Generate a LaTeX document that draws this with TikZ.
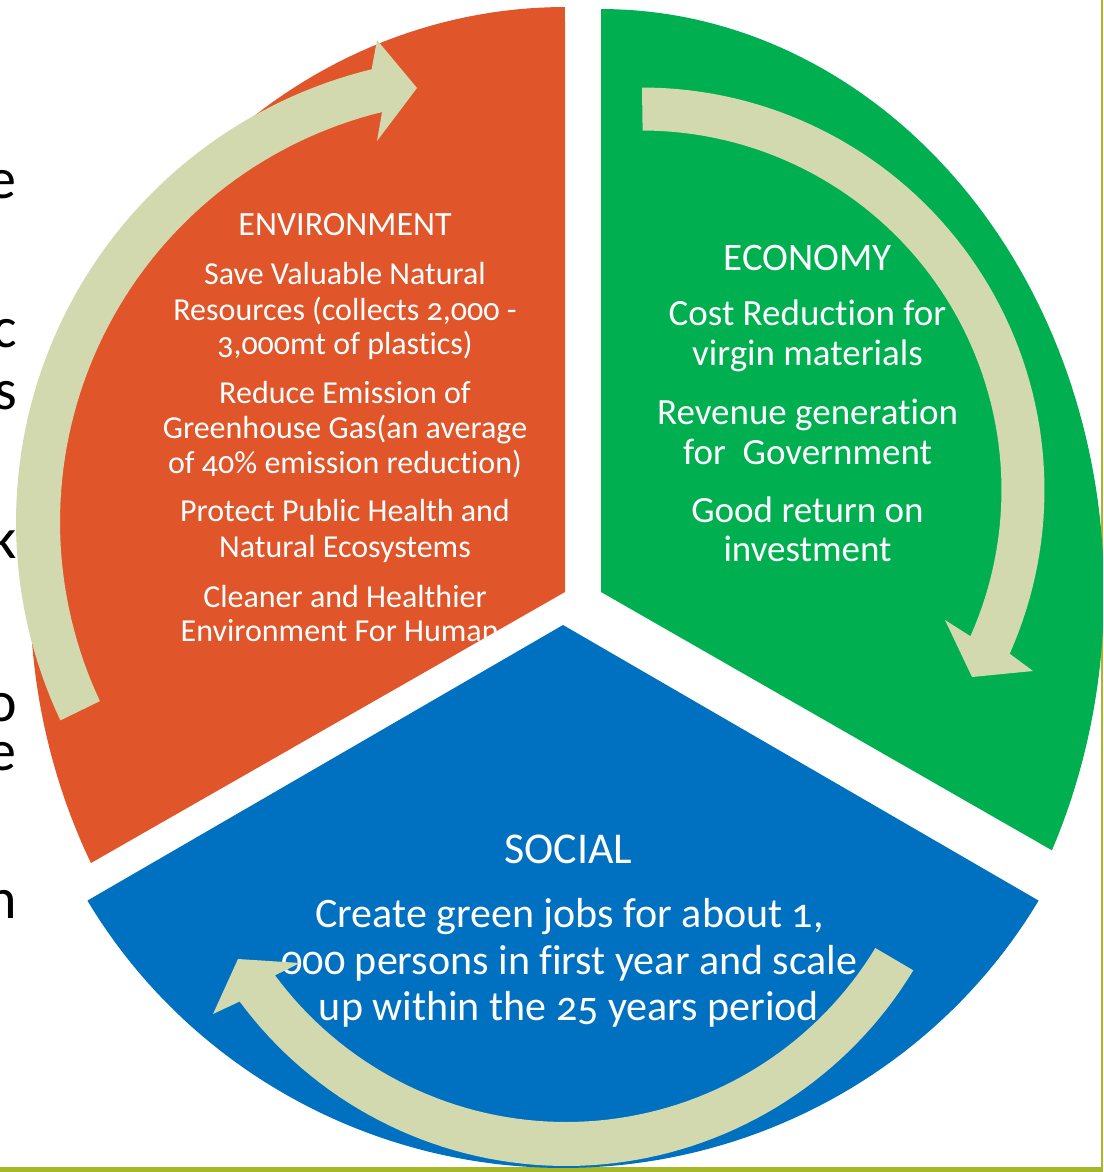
\documentclass[tikz,border=0pt]{standalone}
\usepackage{fontspec}
\setmainfont{Carlito}[Numbers=OldStyle, Ligatures=NoCommon, Contextuals=NoAlternate]
\definecolor{orng}{HTML}{E0552A}
\definecolor{grn}{HTML}{00AF50}
\definecolor{blu}{HTML}{0070C0}
\definecolor{sage}{HTML}{D2D9AE}
\definecolor{olive}{HTML}{A6B828}
\begin{document}
\begin{tikzpicture}[x=1pt,y=-1pt,
  lbl/.style={text=white, inner sep=0pt, anchor=base},
  envt/.style={lbl, font=\fontsize{34}{40}\selectfont},
  envb/.style={lbl, font=\fontsize{32}{38}\selectfont},
  ecot/.style={lbl, font=\fontsize{39}{44}\selectfont},
  ecob/.style={lbl, font=\fontsize{37}{42}\selectfont},
  soct/.style={lbl, font=\fontsize{44}{50}\selectfont},
  socb/.style={lbl, font=\fontsize{42}{48}\selectfont},
  cut/.style={text=black, inner sep=0pt, anchor=base east, text height=0.5em, text depth=0pt, font=\fontsize{58}{64}\selectfont},
  band/.style={fill=sage}
]
\useasboundingbox (0,0) rectangle (1103,1172);
\clip (0,0) rectangle (1103,1172);
% frame lines
\fill[olive] (1100.5,0) rectangle (1103,1172);
\fill[olive] (0,1166.5) rectangle (1103,1172);
% cut-off letters at left
\node[cut] (l1) at (17,198) {e};
\node[cut] (l2) at (17,347) {c};
\node[cut] (l3) at (17,409) {s};
\node[cut] (l4) at (17,558) {k};
\node[cut] (l5) at (17,721) {o};
\node[cut] (l6) at (17,770) {e};
\node[cut] (l7) at (17,918) {n};
% segments
\fill[orng] (565,592) -- plot[domain=152.4:270,samples=90] ({565+535*cos(\x)},{592+585*sin(\x)}) -- cycle;
\fill[grn] (601,592) -- plot[domain=-90:26.3,samples=90] ({601+503*cos(\x)},{592+583*sin(\x)}) -- cycle;
\fill[blu] (563,625) -- plot[domain=30.5:149.5,samples=90] ({563+552*cos(\x)},{625+543*sin(\x)}) -- cycle;
% environment text
\node[envt] (envtitle) at (345,235) {ENVIRONMENT};
\node[envb] (e1) at (345,284) {Save Valuable Natural};
\node[envb] (e2) at (345,320) {Resources (collects 2,000 -};
\node[envb] (e3) at (345,354) {3,000mt of plastics)};
\node[envb] (e4) at (345,403) {Reduce Emission of};
\node[envb] (e5) at (345,438) {Greenhouse Gas(an average};
\node[envb] (e6) at (345,473) {of 40\% emission reduction)};
\node[envb] (e7) at (345,521) {Protect Public Health and};
\node[envb] (e8) at (345,557) {Natural Ecosystems};
\node[envb] (e9) at (345,607) {Cleaner and Healthier};
\node[envb, anchor=base west] (e10) at (180.5,641) {Environment For Human};
% economy text
\node[ecot] (ecotitle) at (807.5,270) {ECONOMY};
\node[ecob] (c1) at (807.5,325) {Cost Reduction for};
\node[ecob] (c2) at (807.5,365.5) {virgin materials};
\node[ecob] (c3) at (807.5,424) {Revenue generation};
\node[ecob] (c4) at (807.5,464) {for\ \ Government};
\node[ecob] (c5) at (807.5,522) {Good return on};
\node[ecob] (c6) at (807.5,561) {investment};
% social text
\node[soct] (soctitle) at (568.5,863) {SOCIAL};
\node[socb] (s1) at (569.5,927) {Create green jobs for about 1,};
\node[socb] (s2) at (569.5,974.5) {000 persons in first year and scale};
\node[socb] (s3) at (569,1020) {up within the 25 years period};
% circular arrows
\fill[band] plot[domain=154.8:256.3,samples=70] ({482+466*cos(\x)},{522+466*sin(\x)})
  -- (377,40) -- (417,88) -- (377,141)
  -- plot[domain=0:1,samples=70] ({482+422*cos(256.3-101.5*\x)},{522+422*sin(256.3-101.5*\x)}) -- cycle;
\fill[band] plot[domain=-90:24,samples=70] ({642+402.5*cos(\x)},{490+402.5*sin(\x)})
  -- (1033,671) -- (972,677) -- (945,620)
  -- plot[domain=0:1,samples=70] ({642+359.5*cos(24-114*\x)},{490+359.5*sin(24-114*\x)}) -- cycle;
\fill[band] plot[domain=31.2:143.5,samples=70] ({566+406*cos(\x)},{760+406*sin(\x)})
  -- (213,1014) -- (238,959) -- (300,963)
  -- plot[domain=0:1,samples=70] ({566+362*cos(143.5-112.3*\x)},{760+362*sin(143.5-112.3*\x)}) -- cycle;
\end{tikzpicture}
\end{document}
